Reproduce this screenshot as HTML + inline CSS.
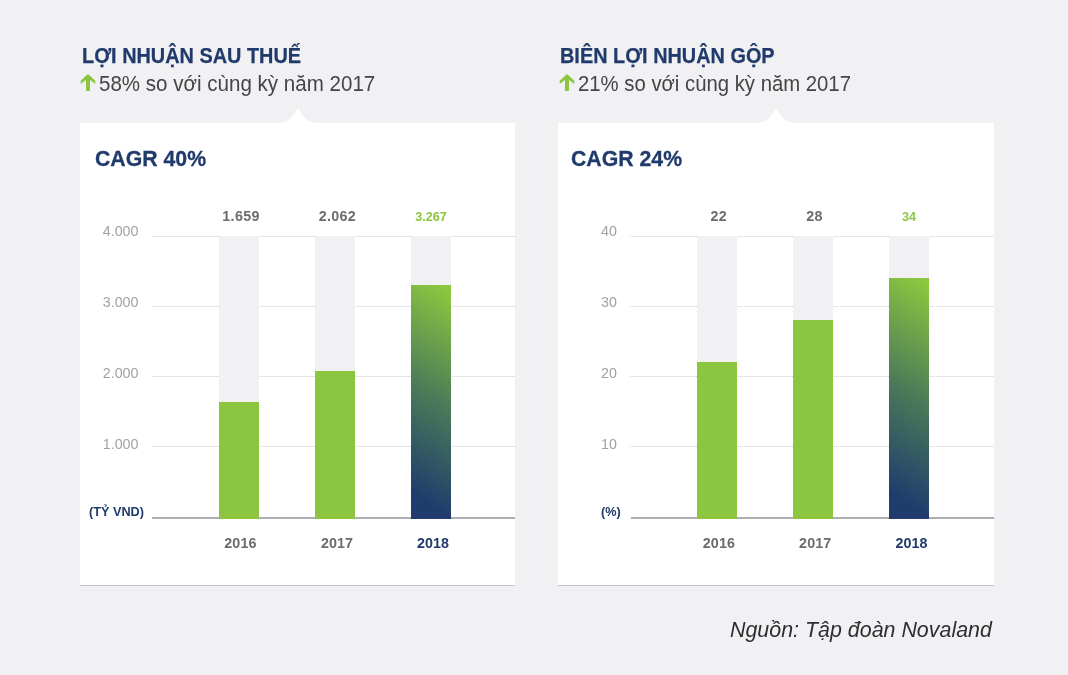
<!DOCTYPE html>
<html lang="vi">
<head>
<meta charset="utf-8">
<title>Novaland</title>
<style>
html,body{margin:0;padding:0;}
body{width:1068px;height:675px;background:#f1f1f3;position:relative;overflow:hidden;font-family:"Liberation Sans",sans-serif;}
.abs{position:absolute;white-space:nowrap;line-height:1;}
.title{font-weight:bold;color:#1f3a6b;font-size:21.7px;transform:translateY(0.3px) scaleX(0.9165);transform-origin:0 50%;-webkit-text-stroke:0.25px #1f3a6b;}
.sub{color:#454547;font-size:21.2px;transform:translateY(-0.2px) scaleX(0.97);transform-origin:0 50%;}
.card{position:absolute;top:122.7px;height:462px;background:#fff;border-bottom:1.5px solid #c3c4c7;}
.cagr{font-weight:bold;color:#1f3a6b;font-size:22.4px;transform:translateY(0.2px) scaleX(0.9497);transform-origin:0 50%;-webkit-text-stroke:0.3px #1f3a6b;}
.grid{position:absolute;height:1px;background:repeating-linear-gradient(90deg,#d4d5d7 0,#d4d5d7 1px,#f6f6f7 1px,#f6f6f7 2px);}
.axis{position:absolute;height:2.2px;background:#adaeb1;}
.ylab{color:#a1a2a5;font-size:14.3px;text-align:right;transform:translateY(-0.25px);}
.unit{font-weight:bold;color:#1f3a6b;font-size:12.9px;transform:translateY(0.3px) scaleX(0.985);transform-origin:0 50%;}
.barbg{position:absolute;width:40px;background:#f1f1f3;}
.bar{position:absolute;width:40px;background:#8cc540;}
.bar.grad{background:linear-gradient(213deg,#8dc63f 3%,#4a7a58 48%,#203c6d 90%);}
.val{font-weight:bold;color:#6b6c6f;font-size:14.3px;text-align:center;width:80px;letter-spacing:0.3px;transform:translateY(-0.4px);}
.val.g{color:#8cc540;font-size:12.8px;letter-spacing:0;transform:translateY(-0.4px) scaleX(0.985);}
.yr{font-weight:bold;color:#6b6c6f;font-size:14.3px;text-align:center;width:80px;letter-spacing:0.1px;}
.yr.n{color:#1f3a6b;}
.src{font-style:italic;color:#2e2e30;font-size:21.9px;transform:translateY(-0.2px) scaleX(0.978);transform-origin:0 50%;}
</style>
</head>
<body>

<!-- headings -->
<div class="abs title" style="left:82.1px;top:44.9px;">LỢI NHUẬN SAU THUẾ</div>
<svg class="abs" style="left:80px;top:74px;" width="16" height="18" viewBox="0 0 16 18"><path d="M8 0.1 L15.3 6.7 V10.1 L10 5.9 V16.9 H6 V5.9 L0.7 10.1 V6.7 Z" fill="#8cc540"/></svg>
<div class="abs sub" style="left:99.1px;top:72.75px;">58% so với cùng kỳ năm 2017</div>

<div class="abs title" style="left:559.6px;top:44.9px;">BIÊN LỢI NHUẬN GỘP</div>
<svg class="abs" style="left:558.7px;top:74px;" width="16" height="18" viewBox="0 0 16 18"><path d="M8 0.1 L15.3 6.7 V10.1 L10 5.9 V16.9 H6 V5.9 L0.7 10.1 V6.7 Z" fill="#8cc540"/></svg>
<div class="abs sub" style="left:577.8px;top:72.75px;transform:translateY(-0.2px) scaleX(0.9585);">21% so với cùng kỳ năm 2017</div>

<!-- cards -->
<div class="card" style="left:80px;width:435px;"></div>
<div class="card" style="left:558px;width:436.2px;"></div>
<svg class="abs" style="left:277.6px;top:102.9px;" width="40" height="20" viewBox="0 0 40 20"><path d="M2.5 20 Q12.5 19.6 20 5 Q27.5 19.6 37.5 20 Z" fill="#fff"/></svg>
<svg class="abs" style="left:755.8px;top:102.9px;" width="40" height="20" viewBox="0 0 40 20"><path d="M2.5 20 Q12.5 19.6 20 5 Q27.5 19.6 37.5 20 Z" fill="#fff"/></svg>

<!-- LEFT CHART -->
<div class="abs cagr" style="left:95.1px;top:148.3px;">CAGR 40%</div>

<div class="grid" style="left:152px;width:363px;top:236px;"></div>
<div class="grid" style="left:152px;width:363px;top:306px;"></div>
<div class="grid" style="left:152px;width:363px;top:376px;"></div>
<div class="grid" style="left:152px;width:363px;top:446px;"></div>

<div class="abs ylab" style="left:66px;width:72.5px;top:223.6px;">4.000</div>
<div class="abs ylab" style="left:66px;width:72.5px;top:294.5px;">3.000</div>
<div class="abs ylab" style="left:66px;width:72.5px;top:365.5px;">2.000</div>
<div class="abs ylab" style="left:66px;width:72.5px;top:436.5px;">1.000</div>
<div class="abs unit" style="left:88.7px;top:506.4px;">(TỶ VND)</div>

<div class="barbg" style="left:219px;top:236px;height:282px;"></div>
<div class="barbg" style="left:315px;top:236px;height:282px;"></div>
<div class="barbg" style="left:411px;top:236px;height:282px;"></div>
<div class="axis" style="left:152px;width:363px;top:516.5px;"></div>
<div class="bar" style="left:219px;width:39.5px;top:401.8px;height:117px;"></div>
<div class="bar" style="left:315px;top:370.9px;height:147.9px;"></div>
<div class="bar grad" style="left:411px;top:285.2px;height:233.6px;"></div>

<div class="abs val" style="left:201px;top:208.5px;">1.659</div>
<div class="abs val" style="left:297.3px;top:208.5px;">2.062</div>
<div class="abs val g" style="left:391px;top:210.5px;">3.267</div>

<div class="abs yr" style="left:200.4px;top:535.9px;">2016</div>
<div class="abs yr" style="left:297px;top:535.9px;">2017</div>
<div class="abs yr n" style="left:393px;top:535.9px;">2018</div>

<!-- RIGHT CHART -->
<div class="abs cagr" style="left:571.0px;top:148.3px;">CAGR 24%</div>

<div class="grid" style="left:630px;width:364.2px;top:236px;"></div>
<div class="grid" style="left:630px;width:364.2px;top:306px;"></div>
<div class="grid" style="left:630px;width:364.2px;top:376px;"></div>
<div class="grid" style="left:630px;width:364.2px;top:446px;"></div>

<div class="abs ylab" style="left:545px;width:72px;top:223.6px;">40</div>
<div class="abs ylab" style="left:545px;width:72px;top:294.5px;">30</div>
<div class="abs ylab" style="left:545px;width:72px;top:365.5px;">20</div>
<div class="abs ylab" style="left:545px;width:72px;top:436.5px;">10</div>
<div class="abs unit" style="left:601.2px;top:506.4px;">(%)</div>

<div class="barbg" style="left:697.3px;top:236px;height:282px;"></div>
<div class="barbg" style="left:793.3px;top:236px;height:282px;"></div>
<div class="barbg" style="left:889.2px;top:236px;height:282px;"></div>
<div class="axis" style="left:630.5px;width:363.7px;top:516.5px;"></div>
<div class="bar" style="left:697.3px;top:361.7px;height:157.1px;"></div>
<div class="bar" style="left:793.3px;top:320px;height:198.8px;"></div>
<div class="bar grad" style="left:889.2px;top:277.8px;height:241px;"></div>

<div class="abs val" style="left:678.8px;top:208.5px;">22</div>
<div class="abs val" style="left:774.5px;top:208.5px;">28</div>
<div class="abs val g" style="left:868.7px;top:210.5px;">34</div>

<div class="abs yr" style="left:678.9px;top:535.9px;">2016</div>
<div class="abs yr" style="left:775.2px;top:535.9px;">2017</div>
<div class="abs yr n" style="left:871.5px;top:535.9px;">2018</div>

<div class="abs src" style="left:729.6px;top:619.46px;">Nguồn: Tập đoàn Novaland</div>

</body>
</html>
